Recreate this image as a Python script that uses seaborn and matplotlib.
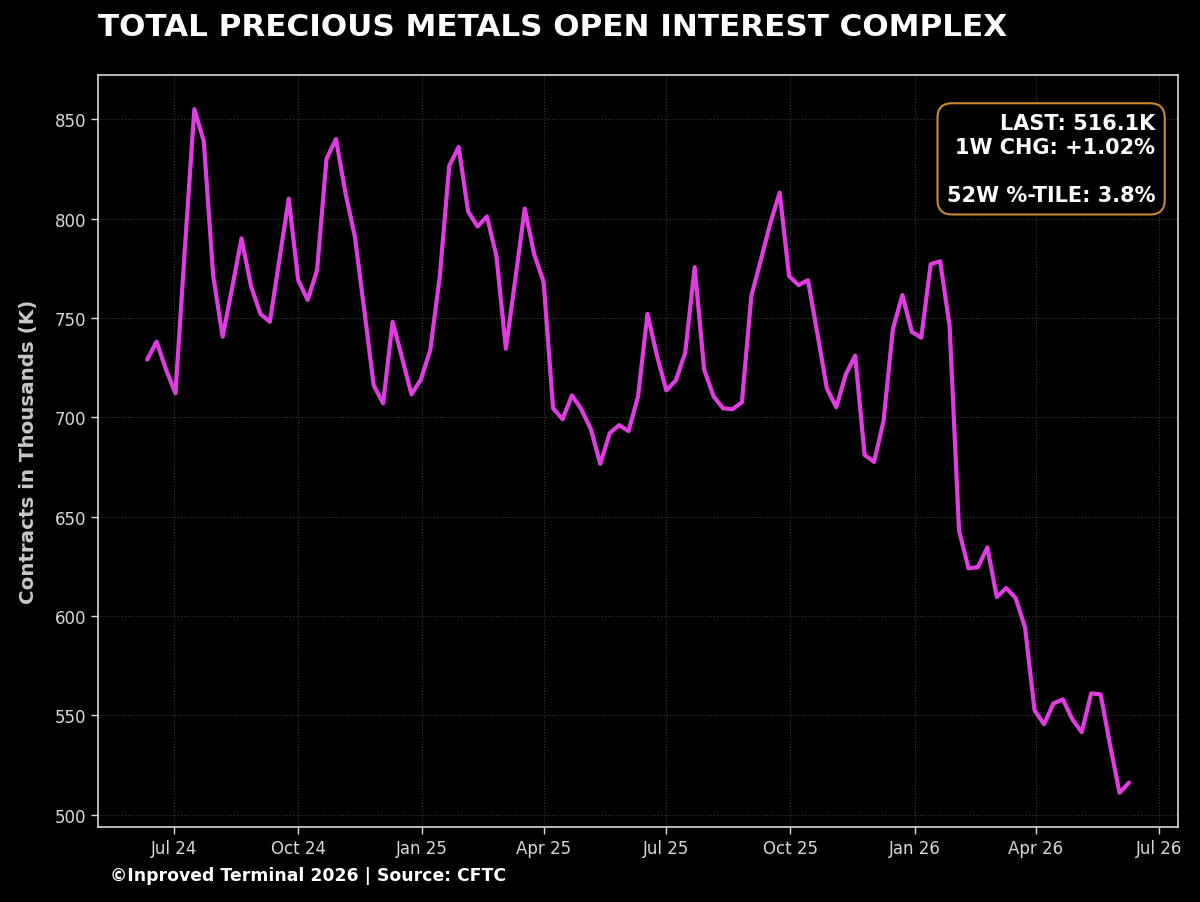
import matplotlib
matplotlib.use('Agg')
import matplotlib.pyplot as plt
import matplotlib.dates as mdates
import seaborn as sns
import pandas as pd
import numpy as np

# weekly CFTC report dates (Tuesdays)
start_date = '2024-06-11'
n_weeks = 105

# open interest, thousands of contracts
oi_values = [
    729, 738, 724, 712, 785, 855, 839, 771, 740.5, 765,
    790, 766, 752, 748, 779, 810, 769, 759, 774, 830,
    840, 813, 791, 754, 716, 707, 748, 730, 711.5, 719,
    734, 771, 826.5, 836, 803.5, 796, 801, 781, 734.5, 769.5,
    805, 782, 768, 704.5, 699, 711, 704, 694, 676.5, 692,
    696, 693, 710.5, 752, 731, 713.5, 718.5, 732.5, 775.5, 724,
    710.5, 704.5, 704, 707.5, 761, 779, 797.5, 813, 771, 766.5,
    769, 742, 714.5, 705, 721.5, 731, 681, 677.5, 698, 744.5,
    761.5, 743, 740, 777, 778.5, 746, 643, 624, 624.5, 634.5,
    609.5, 614, 609, 594, 552.5, 545.5, 556, 558, 548, 541.5,
    561, 560.5, 535, 511, 516.1,
]

title = 'TOTAL PRECIOUS METALS OPEN INTEREST COMPLEX'
y_label = 'Contracts in Thousands (K)'
footer = '©Inproved Terminal 2026 | Source: CFTC'
stats_lines = ['LAST: 516.1K', '1W CHG: +1.02%', '', '52W %-TILE: 3.8%']

df = pd.DataFrame({
    'date': pd.date_range(start_date, periods=n_weeks, freq='7D'),
    'oi': oi_values,
})

sns.set_theme(style='dark')
plt.rcParams['font.family'] = ['DejaVu Sans']
plt.rcParams['figure.facecolor'] = 'black'
plt.rcParams['axes.facecolor'] = 'black'

fig = plt.figure(figsize=(12, 9.03), dpi=100)
ax = fig.add_axes([0.0817, 0.0831, 0.9, 0.8327])

sns.lineplot(data=df, x='date', y='oi', ax=ax, color='#e33be3', linewidth=3)

ax.margins(x=0.05, y=0.05)
ax.set_yticks([500, 550, 600, 650, 700, 750, 800, 850])
ax.xaxis.set_major_locator(mdates.MonthLocator(bymonth=[1, 4, 7, 10]))
ax.xaxis.set_major_formatter(mdates.DateFormatter('%b %y'))

ax.grid(True, color='#3a3a3a', linestyle=':', linewidth=0.8)
for sp in ax.spines.values():
    sp.set_color('#d8d8d8')
    sp.set_linewidth(1.2)
    sp.set_visible(True)
ax.tick_params(colors='#d8d8d8', labelsize=12, length=5, width=1,
               bottom=True, left=True, direction='out')

ax.set_xlabel('')
ax.set_ylabel(y_label, color='#c8c8c8', fontsize=14.3, fontweight='bold', labelpad=12)

fig.text(0.0817, 0.969, title, color='white', fontsize=22.3, fontweight='bold',
         ha='left', va='center')
fig.text(0.092, 0.030, footer, color='white', fontsize=12.4, fontweight='bold',
         ha='left', va='center')

ax.text(0.979, 0.950, '\n'.join(stats_lines), transform=ax.transAxes,
        ha='right', va='top', color='white', fontsize=15, fontweight='bold',
        linespacing=1.26,
        bbox=dict(boxstyle='round,pad=0.45,rounding_size=0.7', facecolor='black',
                  edgecolor='#c98a2e', linewidth=1.5))

fig.savefig('out.png', dpi=100, facecolor='black')
